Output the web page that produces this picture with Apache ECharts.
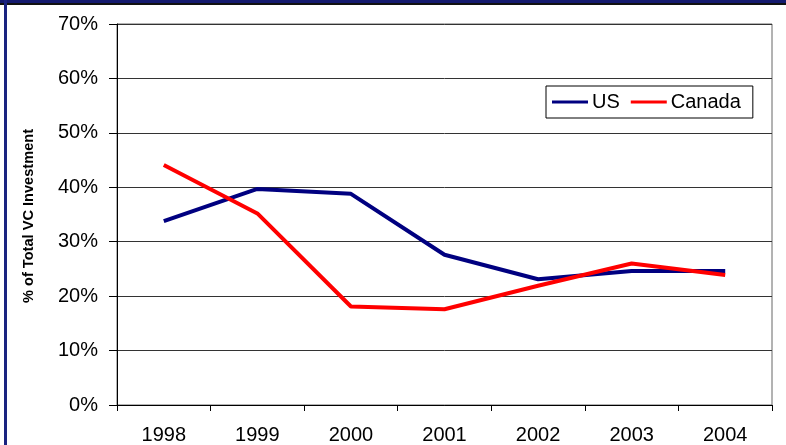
<!DOCTYPE html>
<html>
<head>
<meta charset="utf-8">
<script src="https://cdn.jsdelivr.net/npm/echarts@6/dist/echarts.min.js"></script>
<style>
html,body{margin:0;padding:0;background:#fff;}
#c{width:786px;height:445px;}
</style>
</head>
<body>
<div id="c"></div>
<script>
const years = ['1998','1999','2000','2001','2002','2003','2004'];
const usValues = [33.8, 39.7, 38.8, 27.6, 23.1, 24.6, 24.6];
const canadaValues = [44.1, 35.2, 18.1, 17.6, 21.9, 26.0, 23.9];
const yTicks = [0, 10, 20, 30, 40, 50, 60, 70];

const font = '"Liberation Sans", Arial, sans-serif';
const chart = echarts.init(document.getElementById('c'), null, {renderer: 'canvas'});
chart.setOption({
  animation: false,
  backgroundColor: '#ffffff',
  grid: {left: 117, right: 14, top: 24, bottom: 40, show: true, borderColor: '#666', borderWidth: 1},
  graphic: [
    {type: 'rect', shape: {x: 0, y: 0, width: 786, height: 3}, style: {fill: '#141a6e'}},
    {type: 'rect', shape: {x: 0, y: 3, width: 786, height: 2}, style: {fill: '#111'}},
    {type: 'rect', shape: {x: 4, y: 0, width: 3, height: 445}, style: {fill: '#1a2380'}},
    {type: 'text', rotation: Math.PI / 2, x: 29, y: 216,
      style: {text: '% of Total VC Investment', font: 'bold 14.6px ' + font, fill: '#000', align: 'center', verticalAlign: 'middle'}}
  ],
  legend: {
    left: 546, top: 86,
    data: ['US', 'Canada'],
    orient: 'horizontal',
    backgroundColor: '#fff',
    borderColor: '#000', borderWidth: 1,
    padding: [6, 12, 6, 6],
    itemGap: 11,
    itemWidth: 36, itemHeight: 3,
    icon: 'rect',
    textStyle: {fontFamily: font, fontSize: 20, color: '#000', padding: [0, 0, 0, -1]}
  },
  xAxis: {
    type: 'category',
    data: years,
    boundaryGap: true,
    axisLine: {show: true, lineStyle: {color: '#000', width: 1}},
    axisTick: {show: true, length: 6, lineStyle: {color: '#000'}},
    axisLabel: {fontFamily: font, fontSize: 20, color: '#000', margin: 20},
    splitLine: {show: false}
  },
  yAxis: {
    type: 'value',
    min: yTicks[0], max: yTicks[yTicks.length - 1], interval: 10,
    axisLine: {show: true, lineStyle: {color: '#000', width: 1}},
    axisTick: {show: true, length: 8, lineStyle: {color: '#000'}},
    axisLabel: {fontFamily: font, fontSize: 20, color: '#000', margin: 19, formatter: v => v + '%'},
    splitLine: {show: true, lineStyle: {color: '#333', width: 1}}
  },
  series: [
    {name: 'US', type: 'line', data: usValues, symbol: 'none', lineStyle: {color: '#000080', width: 4}, itemStyle: {color: '#000080'}},
    {name: 'Canada', type: 'line', data: canadaValues, symbol: 'none', lineStyle: {color: '#ff0000', width: 4}, itemStyle: {color: '#ff0000'}}
  ]
});
</script>
</body>
</html>
